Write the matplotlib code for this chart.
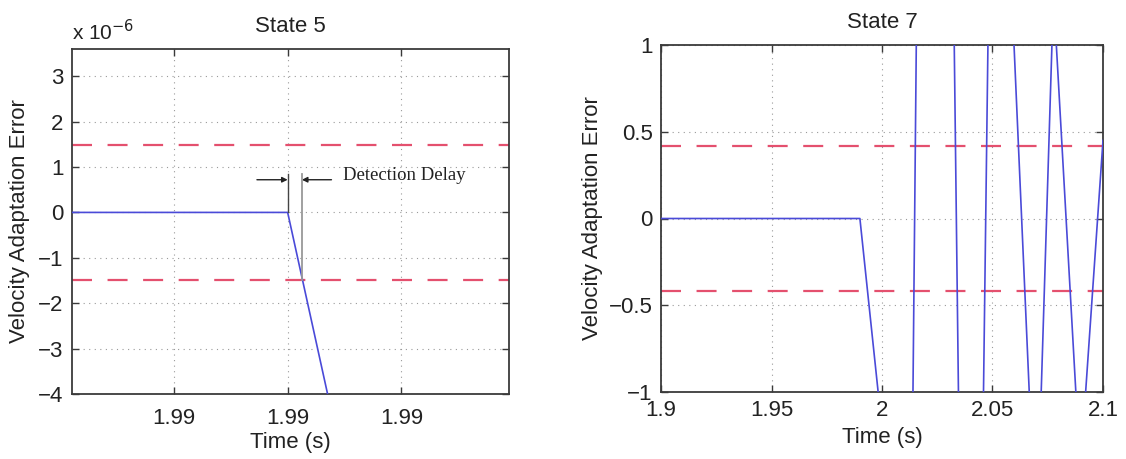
import matplotlib
matplotlib.use("Agg")
import matplotlib.pyplot as plt
from matplotlib.ticker import FuncFormatter, FixedLocator

plt.rcParams['font.family'] = ['Liberation Sans', 'DejaVu Sans']

# ---- State 5 data (time in s, error in raw units) ----
s5_time = [1.9900, 1.9904, 1.9905]
s5_err = [0.0, 0.0, -5.7e-6]
s5_threshold = 1.48e-6
s5_xticks = [1.9902, 1.9904, 1.9906]
s5_xlim = (1.990021, 1.990789)
s5_ylim = (-4e-6, 3.6e-6)
s5_yticks = [-4e-6, -3e-6, -2e-6, -1e-6, 0, 1e-6, 2e-6, 3e-6]
s5_fault_time = 1.9904
s5_detect_time = 1.990425
s5_label = "Detection Delay"

# ---- State 7 data ----
s7_time = [1.90, 1.99, 2.0127, 2.0231, 2.0401, 2.0506, 2.0698, 2.0776, 2.0897, 2.1]
s7_err = [0.0, 0.0, -2.75, 11.1, -6.8, 3.65, -1.92, 1.29, -1.45, 0.45]
s7_threshold = 0.415
s7_xticks = [1.9, 1.95, 2.0, 2.05, 2.1]
s7_yticks = [-1, -0.5, 0, 0.5, 1]

blue = '#4a4ad8'
red = '#e4506e'
spine_c = '#3a3a3a'
FS = 16

fig = plt.figure(figsize=(11.26, 4.59), dpi=100)
ax1 = fig.add_axes([72/1126, 65/459, 437/1126, 345/459])
ax2 = fig.add_axes([661/1126, 67/459, 442/1126, 347/459])

def style(ax):
    for sp in ax.spines.values():
        sp.set_color(spine_c)
        sp.set_linewidth(1.3)
    ax.tick_params(direction='in', length=5, width=1, colors=spine_c,
                   labelcolor='#222222', labelsize=FS, top=True, right=True, pad=6)
    ax.tick_params(axis='x', pad=10)
    ax.grid(True, linestyle=(0, (1, 4)), color='#9a9a9a', linewidth=0.8)
    ax.set_axisbelow(True)

# ---- Left: State 5 ----
ax1.plot(s5_time, s5_err, color=blue, lw=1.2, zorder=3)
ax1.axhline(s5_threshold, color=red, lw=1.6, dashes=(9, 7), zorder=2)
ax1.axhline(-s5_threshold, color=red, lw=1.6, dashes=(9, 7), zorder=2)
ax1.set_xlim(*s5_xlim)
ax1.set_ylim(*s5_ylim)
ax1.xaxis.set_major_locator(FixedLocator(s5_xticks))
ax1.xaxis.set_major_formatter(FuncFormatter(lambda v, p: f"{v:.2f}"))
ax1.yaxis.set_major_locator(FixedLocator(s5_yticks))
ax1.yaxis.set_major_formatter(FuncFormatter(
    lambda v, p: f"{round(v / 1e-6):d}".replace('-', '\u2212')))
style(ax1)
ax1.set_title("State 5", fontsize=FS, pad=12, color='#222222')
ax1.set_xlabel("Time (s)", fontsize=FS, color='#222222', labelpad=2)
ax1.set_ylabel("Velocity Adaptation Error", fontsize=FS, color='#222222', labelpad=6)
ax1.text(0.0, 1.015, r"x 10$^{-6}$", transform=ax1.transAxes, fontsize=FS - 1,
         ha='left', va='bottom', color='#222222')

# Detection delay annotation
d = s5_xticks[1] - s5_xticks[0]
ax1.plot([s5_fault_time, s5_fault_time], [0, 0.85e-6], color='#444444', lw=1.0, zorder=4)
ax1.plot([s5_detect_time, s5_detect_time], [-s5_threshold, 0.85e-6], color='#999999',
         lw=1.3, zorder=4)
ax1.annotate("", xy=(s5_fault_time, 0.72e-6), xytext=(s5_fault_time - 0.27 * d, 0.72e-6),
             arrowprops=dict(arrowstyle='-|>', color='#222222', lw=1.0,
                             mutation_scale=8, shrinkA=0, shrinkB=0))
ax1.annotate("", xy=(s5_detect_time, 0.72e-6), xytext=(s5_detect_time + 0.26 * d, 0.72e-6),
             arrowprops=dict(arrowstyle='-|>', color='#222222', lw=1.0,
                             mutation_scale=8, shrinkA=0, shrinkB=0))
ax1.text(s5_fault_time + 0.49 * d, 0.82e-6, s5_label, fontsize=13.5,
         family=['Liberation Serif', 'DejaVu Serif'], ha='left', va='center', color='#222222')

# ---- Right: State 7 ----
ax2.plot(s7_time, s7_err, color=blue, lw=1.2, zorder=3)
ax2.axhline(s7_threshold, color=red, lw=1.6, dashes=(9, 7), zorder=2)
ax2.axhline(-s7_threshold, color=red, lw=1.6, dashes=(9, 7), zorder=2)
ax2.set_xlim(1.9, 2.1)
ax2.set_ylim(-1, 1)
ax2.xaxis.set_major_locator(FixedLocator(s7_xticks))
ax2.xaxis.set_major_formatter(FuncFormatter(lambda v, p: f"{v:g}"))
ax2.yaxis.set_major_locator(FixedLocator(s7_yticks))
ax2.yaxis.set_major_formatter(FuncFormatter(lambda v, p: f"{v:g}".replace('-', '\u2212')))
style(ax2)
ax2.tick_params(axis='x', pad=6)
ax2.set_title("State 7", fontsize=FS, pad=12, color='#222222')
ax2.set_xlabel("Time (s)", fontsize=FS, color='#222222', labelpad=4)
ax2.set_ylabel("Velocity Adaptation Error", fontsize=FS, color='#222222', labelpad=4)

fig.savefig("out.png", dpi=100)
